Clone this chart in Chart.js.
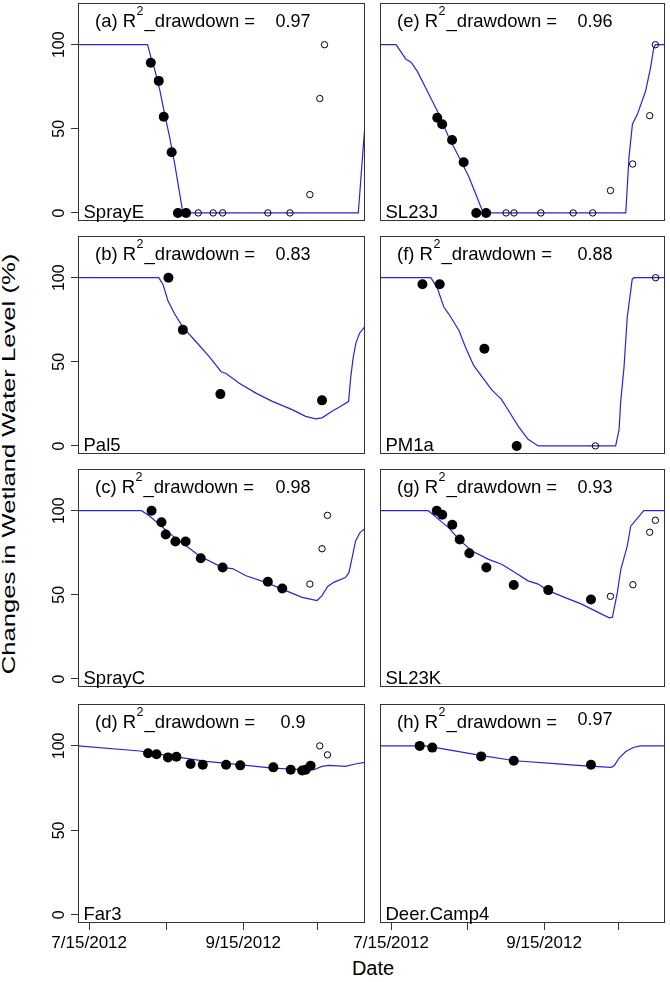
<!DOCTYPE html>
<html>
<head>
<meta charset="utf-8">
<script src="https://cdn.jsdelivr.net/npm/chart.js@4.4.0/dist/chart.umd.min.js"></script>
<style>
body { margin: 0; background: #fff; }
#wrap { position: relative; width: 670px; height: 982px; font-family: "Liberation Sans", Arial, sans-serif; overflow: hidden; }
#wrap canvas { position: absolute; }
.ytitle { position: absolute; left: 9px; top: 464px; transform: translate(-50%, -50%) rotate(-90deg) scaleX(1.35); font-size: 19px; white-space: nowrap; color: #000; }
.xtitle { position: absolute; left: 373px; top: 957px; transform: translateX(-50%); font-size: 20px; color: #000; }
</style>
</head>
<body>
<div id="wrap">
  <div class="ytitle">Changes in Wetland Water Level (%)</div>
  <div class="xtitle">Date</div>
</div>
<script>
// days counted from 7/15/2012
var xTickDays = [0, 31, 62, 92];
var xTickLabels = ['7/15/2012', '', '9/15/2012', ''];
var yTickValues = [0, 50, 100];

var panelIds = ['a', 'b', 'c', 'd', 'e', 'f', 'g', 'h'];
var sites = ['SprayE', 'Pal5', 'SprayC', 'Far3', 'SL23J', 'PM1a', 'SL23K', 'Deer.Camp4'];
var r2Values = ['0.97', '0.83', '0.98', '0.9', '0.96', '0.88', '0.93', '0.97'];

// (a) SprayE
var modelDays_a = [-4.5, 23.5, 24.8, 26.4, 28.4, 30.4, 32.4, 34.4, 36.4, 37.7, 108.3, 111];
var modelLevel_a = [100, 100, 92.8, 85, 73.2, 58.6, 44.9, 29.3, 11.7, 0, 0, 53];
var obsDays_a = [24.8, 28, 30, 33.2, 35.7, 39];
var obsLevel_a = [89.3, 78.5, 57.2, 36.1, 0, 0];
var refillDays_a = [43.9, 49.9, 53.7, 71.9, 80.8, 88.8, 92.8, 94.7];
var refillLevel_a = [0, 0, 0, 0, 0, 10.9, 68, 100];

// (b) Pal5
var modelDays_b = [-4.5, 28, 29.7, 31.7, 34.4, 37.7, 43.1, 48.4, 53.1, 55.1, 60.4, 67.1, 73.7, 81.7, 87.1, 91.1, 93.7, 97.7, 101.1, 104.4, 105.2, 106.2, 107.3, 108.8, 111];
var modelLevel_b = [100, 100, 96, 86.3, 78.4, 70.6, 61.8, 52.9, 44.1, 43.1, 37.3, 31.4, 26.5, 21.6, 17.6, 16.1, 16.7, 20.6, 23.5, 26.5, 40, 52, 61, 67, 71];
var obsDays_b = [31.9, 37.7, 52.8, 93.7];
var obsLevel_b = [100, 69, 30.8, 27.1];
var refillDays_b = [];
var refillLevel_b = [];

// (c) SprayC
var modelDays_c = [-4.5, 21.1, 24.4, 28.4, 33.7, 39.1, 44.4, 53.7, 57.7, 63.1, 71.1, 79.1, 85.7, 91.7, 93.7, 96, 98.4, 103.1, 104.5, 105.8, 107.2, 109, 111];
var modelLevel_c = [100, 100, 96.7, 91.7, 84.9, 79, 73.1, 66.2, 65.6, 61.3, 57.4, 52.5, 48.5, 46.6, 49.5, 55, 57.4, 60.3, 63, 72, 82, 87, 89.5];
var obsDays_c = [25.1, 29.1, 30.8, 34.7, 38.8, 44.9, 53.7, 71.9, 77.7];
var obsLevel_c = [100, 93.1, 85.9, 81.7, 81.7, 71.7, 66.2, 57.8, 53.8];
var refillDays_c = [88.8, 93.7, 95.9];
var refillLevel_c = [56.4, 77.4, 97.2];

// (d) Far3
var modelDays_d = [-4.5, 20.4, 33.7, 47.1, 60.4, 73.7, 87.1, 90.4, 93.7, 96.4, 103.1, 107.1, 111];
var modelLevel_d = [100, 97, 93.8, 90.8, 88.9, 86.9, 85.9, 85.9, 87.9, 88.5, 87.9, 89.3, 90.2];
var obsDays_d = [23.7, 27.1, 31.7, 35.1, 40.8, 45.7, 55.1, 60.8, 74.1, 81.1, 85.7, 87.1, 89.1];
var obsLevel_d = [95.7, 95.1, 93.2, 93.6, 89.3, 88.9, 88.9, 88.5, 87.3, 85.9, 85.4, 85.9, 88.3];
var refillDays_d = [92.8, 95.9];
var refillLevel_d = [100, 94.7];

// (e) SL23J
var modelDays_e = [-4.5, 2, 4, 6, 8, 10.7, 15.4, 19.4, 23.4, 27.5, 31.5, 36.8, 37.5, 95.1, 96.4, 97.8, 99.8, 103.1, 105.1, 106.4, 107.1, 111];
var modelLevel_e = [100, 100, 95.7, 91.4, 89.8, 84, 70.3, 58.6, 44.9, 33.2, 21.5, 2, 0, 0, 33, 52.7, 58.6, 72.3, 86, 97.7, 100, 100];
var obsDays_e = [18.7, 20.7, 24.7, 29.4, 34.5, 38.5];
var obsLevel_e = [56.6, 52.7, 43.4, 30.1, 0, 0];
var refillDays_e = [46.6, 49.8, 60.7, 73.8, 81.7, 88.9, 97.9, 104.8, 107.1];
var refillLevel_e = [0, 0, 0, 0, 0, 13.3, 29.1, 57.8, 100];

// (f) PM1a
var modelDays_f = [-4.5, 16.1, 18.7, 21.4, 23.4, 27.5, 30.1, 33.4, 36.8, 40.8, 44.8, 48.2, 51.5, 55.5, 59.6, 91, 92.4, 93, 94.4, 95.7, 97.7, 98.4, 111];
var modelLevel_f = [100, 100, 94, 82.4, 78.4, 68.6, 58.8, 48, 41.2, 33.3, 27.5, 19.6, 11.8, 3.9, 0, 0, 9.8, 25.5, 47, 76.5, 99, 100, 100];
var obsDays_f = [12.7, 19.7, 37.8, 50.9];
var obsLevel_f = [96.1, 96.1, 57.8, 0];
var refillDays_f = [82.8, 107.2];
var refillLevel_f = [0, 100];

// (g) SL23K
var modelDays_g = [-4.5, 15.1, 19.4, 23.4, 27.5, 32.8, 39.5, 44.8, 50.2, 55.5, 59.6, 63.6, 70.3, 77, 83.7, 88.4, 89.7, 91.7, 93.1, 95.7, 97.1, 102.4, 111];
var modelLevel_g = [100, 100, 94.7, 89.8, 82.9, 76, 71.1, 68.2, 63.3, 58.3, 56.4, 52.5, 48.5, 44.6, 39.7, 36.3, 36.7, 51.5, 65.2, 79, 90.8, 100, 100];
var obsDays_g = [18.5, 20.7, 24.8, 27.8, 31.7, 38.6, 49.7, 63.7, 81];
var obsLevel_g = [100, 97.6, 91.7, 82.9, 74.7, 66.2, 55.8, 52.8, 47.2];
var refillDays_g = [88.9, 98, 104.8, 107.1];
var refillLevel_g = [49.1, 56, 87.2, 94.3];

// (h) Deer.Camp4
var modelDays_h = [-4.5, 14.1, 23.4, 36.8, 50.2, 66.3, 77, 89.1, 90.4, 92.4, 95.1, 98.4, 101.1, 111];
var modelLevel_h = [100, 100, 97.7, 94.3, 91.2, 89.5, 88.3, 87.3, 88.3, 92.8, 96.7, 99.2, 100, 100];
var obsDays_h = [11.6, 16.7, 36.5, 49.7, 81];
var obsLevel_h = [100, 99, 93.8, 91.2, 88.9];
var refillDays_h = [];
var refillLevel_h = [];

var modelDays = [modelDays_a, modelDays_b, modelDays_c, modelDays_d, modelDays_e, modelDays_f, modelDays_g, modelDays_h];
var modelLevel = [modelLevel_a, modelLevel_b, modelLevel_c, modelLevel_d, modelLevel_e, modelLevel_f, modelLevel_g, modelLevel_h];
var obsDays = [obsDays_a, obsDays_b, obsDays_c, obsDays_d, obsDays_e, obsDays_f, obsDays_g, obsDays_h];
var obsLevel = [obsLevel_a, obsLevel_b, obsLevel_c, obsLevel_d, obsLevel_e, obsLevel_f, obsLevel_g, obsLevel_h];
var refillDays = [refillDays_a, refillDays_b, refillDays_c, refillDays_d, refillDays_e, refillDays_f, refillDays_g, refillDays_h];
var refillLevel = [refillLevel_a, refillLevel_b, refillLevel_c, refillLevel_d, refillLevel_e, refillLevel_f, refillLevel_g, refillLevel_h];

var FONT = '"Liberation Sans", Arial, sans-serif';
Chart.defaults.font.family = FONT;
Chart.defaults.color = '#000';

function pairs(xs, ys) {
    return xs.map(function (x, k) { return {x: x, y: ys[k]}; });
}

// box, labels and rotated y tick labels
var panelDecor = {
    id: 'panelDecor',
    afterDraw: function (chart) {
        var o = chart.options.plugins.panelDecor;
        var ctx = chart.ctx;
        var a = chart.chartArea;
        ctx.save();
        ctx.strokeStyle = '#333';
        ctx.lineWidth = 1;
        ctx.strokeRect(Math.round(a.left) + 0.5, Math.round(a.top) + 0.5, Math.round(a.right - a.left) - 1, Math.round(a.bottom - a.top) - 1);

        ctx.fillStyle = '#000';
        ctx.textBaseline = 'alphabetic';
        ctx.textAlign = 'left';
        var x = a.left + 17, y = a.top + 24;
        ctx.font = '18.5px ' + FONT;
        var s1 = '(' + o.id + ') R';
        ctx.fillText(s1, x, y);
        x += ctx.measureText(s1).width + 0.5;
        ctx.font = '12.5px ' + FONT;
        ctx.fillText('2', x, y - 12);
        x += ctx.measureText('2').width + 1;
        ctx.font = '18.5px ' + FONT;
        ctx.fillText('_drawdown =', x, y);
        ctx.font = '18px ' + FONT;
        ctx.textAlign = 'center';
        ctx.fillText(o.r2, a.left + 215, y - o.r2Lift);

        ctx.textAlign = 'left';
        ctx.font = '18.5px ' + FONT;
        ctx.fillText(o.site, a.left + 5.5, a.bottom - 3);

        if (o.yLabels) {
            var ys = chart.scales.y;
            ctx.font = '16px ' + FONT;
            ctx.textAlign = 'center';
            yTickValues.forEach(function (v) {
                ctx.save();
                ctx.translate(a.left - 14, ys.getPixelForValue(v));
                ctx.rotate(-Math.PI / 2);
                ctx.fillText(String(v), 0, 0);
                ctx.restore();
            });
        }
        ctx.restore();
    }
};

var wrap = document.getElementById('wrap');
var rowTops = [2, 235, 468, 703];
var boxW = 288, boxH = 220;

for (var i = 0; i < 8; i++) {
    var col = i < 4 ? 0 : 1;
    var row = i % 4;
    var bottomRow = row === 3;
    var boxLeft = col === 0 ? 78 : 380;
    var canvasLeft = col === 0 ? 0 : 330;
    var canvasW = col === 0 ? 370 : 340;
    var canvasTop = rowTops[row] - 4;
    var canvasH = bottomRow ? boxH + 4 + 56 : boxH + 8;

    var cv = document.createElement('canvas');
    cv.width = canvasW;
    cv.height = canvasH;
    cv.style.left = canvasLeft + 'px';
    cv.style.top = canvasTop + 'px';
    cv.style.width = canvasW + 'px';
    cv.style.height = canvasH + 'px';
    wrap.appendChild(cv);

    var xFit = bottomRow ? function (scale) { scale.height = 56; } : function (scale) { scale.height = 0; };
    var yFit = col === 0 ? function (scale) { scale.width = 78; } : function (scale) { scale.width = 0; };

    new Chart(cv.getContext('2d'), {
        type: 'scatter',
        data: {
            datasets: [{
                // observed drawdown
                data: pairs(obsDays[i], obsLevel[i]),
                pointRadius: 5,
                pointBackgroundColor: '#000',
                pointBorderColor: '#000',
                pointBorderWidth: 0,
                order: 1
            }, {
                // refill observations
                data: pairs(refillDays[i], refillLevel[i]),
                pointRadius: 3.2,
                pointBackgroundColor: 'rgba(0,0,0,0)',
                pointBorderColor: '#000',
                pointBorderWidth: 1,
                order: 2
            }, {
                // model
                data: pairs(modelDays[i], modelLevel[i]),
                showLine: true,
                pointRadius: 0,
                borderColor: '#2626d9',
                borderWidth: 1.2,
                tension: 0,
                order: 3
            }]
        },
        options: {
            responsive: false,
            animation: false,
            devicePixelRatio: 1,
            layout: {
                padding: {
                    left: col === 0 ? 0 : boxLeft - canvasLeft,
                    right: canvasW - (boxLeft + boxW - canvasLeft),
                    top: 4,
                    bottom: bottomRow ? 0 : 4
                }
            },
            plugins: {
                legend: {display: false},
                tooltip: {enabled: false},
                panelDecor: {id: panelIds[i], site: sites[i], r2: r2Values[i], r2Lift: i === 7 ? 3 : 0, yLabels: col === 0}
            },
            scales: {
                x: {
                    type: 'linear',
                    min: -4.5,
                    max: 111,
                    display: bottomRow,
                    afterBuildTicks: function (scale) {
                        scale.ticks = xTickDays.map(function (v) { return {value: v}; });
                    },
                    afterFit: xFit,
                    grid: {drawOnChartArea: false, drawTicks: true, tickLength: 7, color: '#333', lineWidth: 1},
                    border: {display: false},
                    ticks: {
                        autoSkip: false,
                        maxRotation: 0,
                        minRotation: 0,
                        padding: 3,
                        font: {size: 17},
                        color: '#000',
                        callback: function (value, index) { return xTickLabels[index]; }
                    }
                },
                y: {
                    type: 'linear',
                    min: -4.8,
                    max: 124.8,
                    display: col === 0,
                    afterBuildTicks: function (scale) {
                        scale.ticks = yTickValues.map(function (v) { return {value: v}; });
                    },
                    afterFit: yFit,
                    grid: {drawOnChartArea: false, drawTicks: true, tickLength: 7, color: '#333', lineWidth: 1},
                    border: {display: false},
                    ticks: {display: false}
                }
            }
        },
        plugins: [panelDecor]
    });
}
</script>
</body>
</html>
